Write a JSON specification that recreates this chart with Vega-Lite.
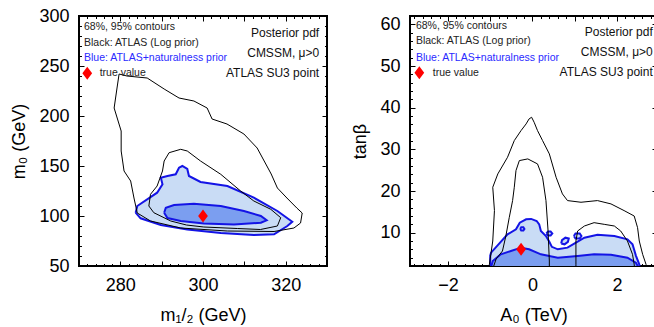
{
  "$schema": "https://vega.github.io/schema/vega-lite/v6.json",
  "padding": {"left": 9, "top": 6, "right": 0, "bottom": 0},
  "spacing": 21,
  "config": {
    "font": "Liberation Sans",
    "view": {"stroke": "black", "strokeWidth": 2},
    "axis": {
      "domain": false, "grid": false,
      "labelFont": "Liberation Sans", "titleFont": "Liberation Sans",
      "labelFontSize": 18, "titleFontSize": 18, "titleFontWeight": "normal",
      "labelColor": "black", "titleColor": "black", "tickColor": "black", "tickWidth": 1,
      "labelOverlap": false, "labelFlush": false, "format": "d",
      "labelPadding": 15, "titlePadding": 10
    }
  },
  "datasets": {
    "cont": [
      {"p":"L","c":"b95","o":0,"x":283.7,"y":103.3},{"p":"L","c":"b95","o":1,"x":284.1,"y":110},{"p":"L","c":"b95","o":2,"x":288.9,"y":123.3},{"p":"L","c":"b95","o":3,"x":290.2,"y":131.7},{"p":"L","c":"b95","o":4,"x":289.8,"y":138.3},{"p":"L","c":"b95","o":5,"x":291.4,"y":140},{"p":"L","c":"b95","o":6,"x":293.4,"y":141.7},{"p":"L","c":"b95","o":7,"x":294.2,"y":148.3},{"p":"L","c":"b95","o":8,"x":295,"y":150},{"p":"L","c":"b95","o":9,"x":296.2,"y":147},{"p":"L","c":"b95","o":10,"x":296.6,"y":140},{"p":"L","c":"b95","o":11,"x":299.4,"y":134},{"p":"L","c":"b95","o":12,"x":305.9,"y":130},{"p":"L","c":"b95","o":13,"x":312.3,"y":118.3},{"p":"L","c":"b95","o":14,"x":318,"y":105},{"p":"L","c":"b95","o":15,"x":321.6,"y":94.3},{"p":"L","c":"b95","o":16,"x":320.4,"y":90},{"p":"L","c":"b95","o":17,"x":317.2,"y":81.7},{"p":"L","c":"b95","o":18,"x":312.3,"y":81},{"p":"L","c":"b95","o":19,"x":304.3,"y":83},{"p":"L","c":"b95","o":20,"x":296.2,"y":86.5},{"p":"L","c":"b95","o":21,"x":289.8,"y":91},{"p":"L","c":"b95","o":22,"x":284.9,"y":97.7},{"p":"L","c":"b95","o":23,"x":283.7,"y":103.3},
      {"p":"L","c":"b68","o":0,"x":290.6,"y":103.3},{"p":"L","c":"b68","o":1,"x":291,"y":108.3},{"p":"L","c":"b68","o":2,"x":293,"y":111},{"p":"L","c":"b68","o":3,"x":297.8,"y":112.3},{"p":"L","c":"b68","o":4,"x":304.3,"y":110},{"p":"L","c":"b68","o":5,"x":309.9,"y":105},{"p":"L","c":"b68","o":6,"x":314,"y":100},{"p":"L","c":"b68","o":7,"x":315.4,"y":95.7},{"p":"L","c":"b68","o":8,"x":314,"y":93.3},{"p":"L","c":"b68","o":9,"x":307.5,"y":91.5},{"p":"L","c":"b68","o":10,"x":300.2,"y":92.5},{"p":"L","c":"b68","o":11,"x":294.6,"y":95},{"p":"L","c":"b68","o":12,"x":291.4,"y":98},{"p":"L","c":"b68","o":13,"x":290.6,"y":103.3},
      {"p":"L","c":"k95","o":0,"x":279.7,"y":242},{"p":"L","c":"k95","o":1,"x":281.6,"y":240},{"p":"L","c":"k95","o":2,"x":286.5,"y":238},{"p":"L","c":"k95","o":3,"x":290.6,"y":227},{"p":"L","c":"k95","o":4,"x":294.2,"y":218},{"p":"L","c":"k95","o":5,"x":297.8,"y":215},{"p":"L","c":"k95","o":6,"x":301,"y":208},{"p":"L","c":"k95","o":7,"x":302.2,"y":197},{"p":"L","c":"k95","o":8,"x":305.8,"y":192},{"p":"L","c":"k95","o":9,"x":309.9,"y":182},{"p":"L","c":"k95","o":10,"x":313.1,"y":168},{"p":"L","c":"k95","o":11,"x":314.8,"y":155},{"p":"L","c":"k95","o":12,"x":316.5,"y":142},{"p":"L","c":"k95","o":13,"x":318,"y":128},{"p":"L","c":"k95","o":14,"x":320.3,"y":118},{"p":"L","c":"k95","o":15,"x":322.7,"y":108},{"p":"L","c":"k95","o":16,"x":324,"y":103},{"p":"L","c":"k95","o":17,"x":323.6,"y":93},{"p":"L","c":"k95","o":18,"x":322,"y":88},{"p":"L","c":"k95","o":19,"x":317.2,"y":84.5},{"p":"L","c":"k95","o":20,"x":305.9,"y":85},{"p":"L","c":"k95","o":21,"x":294.6,"y":88},{"p":"L","c":"k95","o":22,"x":287.3,"y":95},{"p":"L","c":"k95","o":23,"x":284.1,"y":103},{"p":"L","c":"k95","o":24,"x":283.3,"y":118},{"p":"L","c":"k95","o":25,"x":282.5,"y":135},{"p":"L","c":"k95","o":26,"x":280.9,"y":145},{"p":"L","c":"k95","o":27,"x":280.2,"y":165},{"p":"L","c":"k95","o":28,"x":280.2,"y":185},{"p":"L","c":"k95","o":29,"x":278.5,"y":208},{"p":"L","c":"k95","o":30,"x":279.2,"y":228},{"p":"L","c":"k95","o":31,"x":279.7,"y":242},
      {"p":"L","c":"k68","o":0,"x":294.6,"y":166.7},{"p":"L","c":"k68","o":1,"x":291.8,"y":163.3},{"p":"L","c":"k68","o":2,"x":290.6,"y":155},{"p":"L","c":"k68","o":3,"x":290.2,"y":145},{"p":"L","c":"k68","o":4,"x":288.9,"y":130},{"p":"L","c":"k68","o":5,"x":287.3,"y":121.7},{"p":"L","c":"k68","o":6,"x":286.9,"y":110},{"p":"L","c":"k68","o":7,"x":288.1,"y":103.3},{"p":"L","c":"k68","o":8,"x":292.2,"y":95},{"p":"L","c":"k68","o":9,"x":296,"y":91},{"p":"L","c":"k68","o":10,"x":300.2,"y":89},{"p":"L","c":"k68","o":11,"x":308.3,"y":87.5},{"p":"L","c":"k68","o":12,"x":313.9,"y":86.5},{"p":"L","c":"k68","o":13,"x":318,"y":90},{"p":"L","c":"k68","o":14,"x":318.8,"y":98.3},{"p":"L","c":"k68","o":15,"x":316.4,"y":106.7},{"p":"L","c":"k68","o":16,"x":312.3,"y":115},{"p":"L","c":"k68","o":17,"x":309.1,"y":125},{"p":"L","c":"k68","o":18,"x":304.3,"y":141.7},{"p":"L","c":"k68","o":19,"x":299.4,"y":155},{"p":"L","c":"k68","o":20,"x":296.2,"y":165},{"p":"L","c":"k68","o":21,"x":294.6,"y":166.7},
      {"p":"R","c":"b95","o":0,"x":-1.0,"y":1},{"p":"R","c":"b95","o":1,"x":-1.0,"y":4.5},{"p":"R","c":"b95","o":2,"x":-0.98,"y":5.2},{"p":"R","c":"b95","o":3,"x":-0.82,"y":7.0},{"p":"R","c":"b95","o":4,"x":-0.59,"y":9.6},{"p":"R","c":"b95","o":5,"x":-0.39,"y":10.8},{"p":"R","c":"b95","o":6,"x":-0.3,"y":12.4},{"p":"R","c":"b95","o":7,"x":-0.15,"y":13.2},{"p":"R","c":"b95","o":8,"x":-0.03,"y":13.3},{"p":"R","c":"b95","o":9,"x":0.1,"y":12.8},{"p":"R","c":"b95","o":10,"x":0.16,"y":12.0},{"p":"R","c":"b95","o":11,"x":0.2,"y":10.4},{"p":"R","c":"b95","o":12,"x":0.32,"y":9.2},{"p":"R","c":"b95","o":13,"x":0.4,"y":7.8},{"p":"R","c":"b95","o":14,"x":0.46,"y":6.6},{"p":"R","c":"b95","o":15,"x":0.6,"y":6.0},{"p":"R","c":"b95","o":16,"x":0.83,"y":6.4},{"p":"R","c":"b95","o":17,"x":1.03,"y":7.6},{"p":"R","c":"b95","o":18,"x":1.23,"y":8.8},{"p":"R","c":"b95","o":19,"x":1.54,"y":9.5},{"p":"R","c":"b95","o":20,"x":1.94,"y":9.2},{"p":"R","c":"b95","o":21,"x":2.25,"y":8.4},{"p":"R","c":"b95","o":22,"x":2.37,"y":7.2},{"p":"R","c":"b95","o":23,"x":2.45,"y":4.5},{"p":"R","c":"b95","o":24,"x":2.53,"y":2.4},{"p":"R","c":"b95","o":25,"x":2.55,"y":1},{"p":"R","c":"b95","o":26,"x":-1.0,"y":1},
      {"p":"R","c":"i1","o":0,"x":-0.29,"y":10.9},{"p":"R","c":"i1","o":1,"x":-0.265,"y":11.3},{"p":"R","c":"i1","o":2,"x":-0.215,"y":11.3},{"p":"R","c":"i1","o":3,"x":-0.19,"y":10.9},{"p":"R","c":"i1","o":4,"x":-0.215,"y":10.5},{"p":"R","c":"i1","o":5,"x":-0.265,"y":10.5},{"p":"R","c":"i1","o":6,"x":-0.29,"y":10.9},
      {"p":"R","c":"i2","o":0,"x":0.33,"y":9.8},{"p":"R","c":"i2","o":1,"x":0.37,"y":10.3},{"p":"R","c":"i2","o":2,"x":0.43,"y":10.3},{"p":"R","c":"i2","o":3,"x":0.47,"y":9.8},{"p":"R","c":"i2","o":4,"x":0.43,"y":9.3},{"p":"R","c":"i2","o":5,"x":0.37,"y":9.3},{"p":"R","c":"i2","o":6,"x":0.33,"y":9.8},
      {"p":"R","c":"i3","o":0,"x":0.68,"y":7.4},{"p":"R","c":"i3","o":1,"x":0.7,"y":8.2},{"p":"R","c":"i3","o":2,"x":0.78,"y":8.8},{"p":"R","c":"i3","o":3,"x":0.86,"y":8.6},{"p":"R","c":"i3","o":4,"x":0.84,"y":7.8},{"p":"R","c":"i3","o":5,"x":0.76,"y":7.2},{"p":"R","c":"i3","o":6,"x":0.68,"y":7.4},
      {"p":"R","c":"i4","o":0,"x":0.98,"y":9.2},{"p":"R","c":"i4","o":1,"x":1.02,"y":9.8},{"p":"R","c":"i4","o":2,"x":1.12,"y":9.8},{"p":"R","c":"i4","o":3,"x":1.16,"y":9.2},{"p":"R","c":"i4","o":4,"x":1.12,"y":8.6},{"p":"R","c":"i4","o":5,"x":1.02,"y":8.6},{"p":"R","c":"i4","o":6,"x":0.98,"y":9.2},
      {"p":"R","c":"b68","o":0,"x":-1.0,"y":1},{"p":"R","c":"b68","o":1,"x":-0.94,"y":3.2},{"p":"R","c":"b68","o":2,"x":-0.75,"y":4.8},{"p":"R","c":"b68","o":3,"x":-0.51,"y":5.6},{"p":"R","c":"b68","o":4,"x":-0.27,"y":6.4},{"p":"R","c":"b68","o":5,"x":-0.08,"y":6.0},{"p":"R","c":"b68","o":6,"x":0.2,"y":4.8},{"p":"R","c":"b68","o":7,"x":0.6,"y":4.0},{"p":"R","c":"b68","o":8,"x":1.07,"y":4.4},{"p":"R","c":"b68","o":9,"x":1.46,"y":4.8},{"p":"R","c":"b68","o":10,"x":1.86,"y":4.7},{"p":"R","c":"b68","o":11,"x":2.25,"y":4.0},{"p":"R","c":"b68","o":12,"x":2.45,"y":2.8},{"p":"R","c":"b68","o":13,"x":2.55,"y":1},{"p":"R","c":"b68","o":14,"x":-1.0,"y":1},
      {"p":"R","c":"k95","o":0,"x":-1.02,"y":1},{"p":"R","c":"k95","o":1,"x":-1.02,"y":2.4},{"p":"R","c":"k95","o":2,"x":-0.94,"y":8.0},{"p":"R","c":"k95","o":3,"x":-0.9,"y":15.3},{"p":"R","c":"k95","o":4,"x":-0.94,"y":20.9},{"p":"R","c":"k95","o":5,"x":-0.82,"y":24.1},{"p":"R","c":"k95","o":6,"x":-0.59,"y":28.1},{"p":"R","c":"k95","o":7,"x":-0.43,"y":32.1},{"p":"R","c":"k95","o":8,"x":-0.27,"y":34.5},{"p":"R","c":"k95","o":9,"x":-0.15,"y":36.1},{"p":"R","c":"k95","o":10,"x":-0.08,"y":37.3},{"p":"R","c":"k95","o":11,"x":-0.02,"y":37.7},{"p":"R","c":"k95","o":12,"x":0.04,"y":36.5},{"p":"R","c":"k95","o":13,"x":0.12,"y":34.5},{"p":"R","c":"k95","o":14,"x":0.24,"y":32.1},{"p":"R","c":"k95","o":15,"x":0.4,"y":28.9},{"p":"R","c":"k95","o":16,"x":0.56,"y":23.3},{"p":"R","c":"k95","o":17,"x":0.71,"y":19.3},{"p":"R","c":"k95","o":18,"x":0.83,"y":17.7},{"p":"R","c":"k95","o":19,"x":1.15,"y":17.3},{"p":"R","c":"k95","o":20,"x":1.54,"y":17.7},{"p":"R","c":"k95","o":21,"x":1.86,"y":16.9},{"p":"R","c":"k95","o":22,"x":2.17,"y":15.3},{"p":"R","c":"k95","o":23,"x":2.41,"y":14.0},{"p":"R","c":"k95","o":24,"x":2.49,"y":11.2},{"p":"R","c":"k95","o":25,"x":2.53,"y":8.0},{"p":"R","c":"k95","o":26,"x":2.61,"y":4.8},{"p":"R","c":"k95","o":27,"x":2.69,"y":2.4},{"p":"R","c":"k95","o":28,"x":2.72,"y":1},{"p":"R","c":"k95","o":29,"x":-1.02,"y":1},
      {"p":"R","c":"k68a","o":0,"x":-0.95,"y":1},{"p":"R","c":"k68a","o":1,"x":-0.86,"y":3.7},{"p":"R","c":"k68a","o":2,"x":-0.71,"y":5.6},{"p":"R","c":"k68a","o":3,"x":-0.63,"y":9.2},{"p":"R","c":"k68a","o":4,"x":-0.55,"y":13.6},{"p":"R","c":"k68a","o":5,"x":-0.47,"y":17.7},{"p":"R","c":"k68a","o":6,"x":-0.43,"y":20.9},{"p":"R","c":"k68a","o":7,"x":-0.39,"y":24.9},{"p":"R","c":"k68a","o":8,"x":-0.31,"y":27.3},{"p":"R","c":"k68a","o":9,"x":-0.11,"y":27.7},{"p":"R","c":"k68a","o":10,"x":0.12,"y":26.5},{"p":"R","c":"k68a","o":11,"x":0.24,"y":23.3},{"p":"R","c":"k68a","o":12,"x":0.32,"y":17.7},{"p":"R","c":"k68a","o":13,"x":0.37,"y":10.4},{"p":"R","c":"k68a","o":14,"x":0.4,"y":3.2},{"p":"R","c":"k68a","o":15,"x":0.4,"y":1},{"p":"R","c":"k68a","o":16,"x":-0.95,"y":1},
      {"p":"R","c":"k68b","o":0,"x":1.03,"y":1},{"p":"R","c":"k68b","o":1,"x":1.03,"y":2.4},{"p":"R","c":"k68b","o":2,"x":1.03,"y":8.0},{"p":"R","c":"k68b","o":3,"x":1.07,"y":10.4},{"p":"R","c":"k68b","o":4,"x":1.23,"y":11.6},{"p":"R","c":"k68b","o":5,"x":1.46,"y":12.4},{"p":"R","c":"k68b","o":6,"x":1.7,"y":12.0},{"p":"R","c":"k68b","o":7,"x":1.94,"y":11.6},{"p":"R","c":"k68b","o":8,"x":2.09,"y":10.4},{"p":"R","c":"k68b","o":9,"x":2.25,"y":8.0},{"p":"R","c":"k68b","o":10,"x":2.37,"y":4.8},{"p":"R","c":"k68b","o":11,"x":2.41,"y":2.4},{"p":"R","c":"k68b","o":12,"x":2.42,"y":1},{"p":"R","c":"k68b","o":13,"x":1.03,"y":1}
    ],
    "pts": [
      {"p":"L","x":300,"y":100},{"p":"L","x":272.0,"y":242.7},
      {"p":"R","x":-0.27,"y":6.0},{"p":"R","x":-2.68,"y":48.4}
    ],
    "txt": [
      {"p":"L","g":"l","x":271.2,"y":289,"t":"68%, 95% contours"},
      {"p":"L","g":"l","x":271.2,"y":273.3,"t":"Black: ATLAS (Log prior)"},
      {"p":"L","g":"b","x":271.2,"y":257.7,"t":"Blue: ATLAS+naturalness prior"},
      {"p":"L","g":"l","x":275.0,"y":242.7,"t":"true value"},
      {"p":"L","g":"r","x":328.1,"y":282.7,"t":"Posterior pdf"},
      {"p":"L","g":"r","x":328.1,"y":263.3,"t":"CMSSM, μ>0"},
      {"p":"L","g":"r","x":328.1,"y":243.3,"t":"ATLAS SU3 point"},
      {"p":"R","g":"l","x":-2.76,"y":59.6,"t":"68%, 95% contours"},
      {"p":"R","g":"l","x":-2.76,"y":55.9,"t":"Black: ATLAS (Log prior)"},
      {"p":"R","g":"b","x":-2.76,"y":52.0,"t":"Blue: ATLAS+naturalness prior"},
      {"p":"R","g":"l","x":-2.36,"y":48.4,"t":"true value"},
      {"p":"R","g":"r","x":2.85,"y":58.1,"t":"Posterior pdf"},
      {"p":"R","g":"r","x":2.85,"y":53.4,"t":"CMSSM, μ>0"},
      {"p":"R","g":"r","x":2.85,"y":48.6,"t":"ATLAS SU3 point"}
    ]
  },
  "hconcat": [
    {
      "width": 248, "height": 250,
      "layer": [
        {
          "encoding": {
            "x": {"field": "x", "type": "quantitative", "scale": {"domain": [270, 330], "nice": false, "zero": false},
              "axis": {"orient": "bottom", "title": "m₁/₂ (GeV)",
                "values": [270,272,274,276,278,280,282,284,286,288,290,292,294,296,298,300,302,304,306,308,310,312,314,316,318,320,322,324,326,328,330],
                "labelExpr": "datum.value % 20 === 0 ? datum.label : ''",
                "tickSize": {"condition": {"test": "datum.value % 10 === 0", "value": -5}, "value": -2.5}}},
            "y": {"field": "y", "type": "quantitative", "scale": {"domain": [50, 300], "nice": false, "zero": false},
              "axis": {"orient": "left", "title": "m₀ (GeV)",
                "values": [50,60,70,80,90,100,110,120,130,140,150,160,170,180,190,200,210,220,230,240,250,260,270,280,290,300],
                "labelExpr": "datum.value % 50 === 0 ? datum.label : ''",
                "tickSize": {"condition": {"test": "datum.value % 50 === 0", "value": -5}, "value": -2.5}}}
          },
          "layer": [
            {"data": {"name": "cont"}, "transform": [{"filter": "datum.p === 'L' && datum.c === 'b95'"}],
             "mark": {"type": "line", "fill": "#c9dcf5", "stroke": "#1414e6", "strokeWidth": 2, "clip": true},
             "encoding": {"detail": {"field": "c"}, "order": {"field": "o", "type": "quantitative"}}},
            {"data": {"name": "cont"}, "transform": [{"filter": "datum.p === 'L' && datum.c === 'b68'"}],
             "mark": {"type": "line", "fill": "#7b9ef0", "stroke": "#1414e6", "strokeWidth": 2, "clip": true},
             "encoding": {"detail": {"field": "c"}, "order": {"field": "o", "type": "quantitative"}}},
            {"data": {"name": "cont"}, "transform": [{"filter": "datum.p === 'L' && datum.c[0] === 'k'"}],
             "mark": {"type": "line", "stroke": "black", "strokeWidth": 1, "clip": true},
             "encoding": {"detail": {"field": "c"}, "order": {"field": "o", "type": "quantitative"}}},
            {"data": {"name": "pts"}, "transform": [{"filter": "datum.p === 'L'"}],
             "mark": {"type": "point", "shape": "M0,-1L0.75,0L0,1L-0.75,0Z", "filled": true, "color": "#ff0000", "opacity": 1, "size": 169}},
            {"data": {"name": "txt"}, "transform": [{"filter": "datum.p === 'L' && datum.g === 'l'"}],
             "mark": {"type": "text", "align": "left", "baseline": "middle", "fontSize": 10.5, "color": "#222222"},
             "encoding": {"text": {"field": "t"}}},
            {"data": {"name": "txt"}, "transform": [{"filter": "datum.p === 'L' && datum.g === 'b'"}],
             "mark": {"type": "text", "align": "left", "baseline": "middle", "fontSize": 10.5, "color": "#2a2aff"},
             "encoding": {"text": {"field": "t"}}}
          ]
        },
        {
          "data": {"name": "txt"}, "transform": [{"filter": "datum.p === 'L' && datum.g === 'r'"}],
          "mark": {"type": "text", "align": "right", "baseline": "middle", "fontSize": 12, "color": "#111111"},
          "encoding": {
            "x": {"field": "x", "type": "quantitative", "scale": {"domain": [270, 330], "nice": false, "zero": false},
              "axis": {"orient": "top", "title": null, "labels": false,
                "values": [270,272,274,276,278,280,282,284,286,288,290,292,294,296,298,300,302,304,306,308,310,312,314,316,318,320,322,324,326,328,330],
                "tickSize": {"condition": {"test": "datum.value % 10 === 0", "value": -5}, "value": -2.5}}},
            "y": {"field": "y", "type": "quantitative", "scale": {"domain": [50, 300], "nice": false, "zero": false},
              "axis": {"orient": "right", "title": null, "labels": false,
                "values": [50,60,70,80,90,100,110,120,130,140,150,160,170,180,190,200,210,220,230,240,250,260,270,280,290,300],
                "tickSize": {"condition": {"test": "datum.value % 50 === 0", "value": -5}, "value": -2.5}}},
            "text": {"field": "t"}
          }
        }
      ],
      "resolve": {"axis": {"x": "independent", "y": "independent"}}
    },
    {
      "width": 247, "height": 250,
      "layer": [
        {
          "encoding": {
            "x": {"field": "x", "type": "quantitative", "scale": {"domain": [-2.9, 2.95], "nice": false, "zero": false},
              "axis": {"orient": "bottom", "title": "A₀ (TeV)",
                "values": [-2.8,-2.6,-2.4,-2.2,-2,-1.8,-1.6,-1.4,-1.2,-1,-0.8,-0.6,-0.4,-0.2,0,0.2,0.4,0.6,0.8,1,1.2,1.4,1.6,1.8,2,2.2,2.4,2.6,2.8],
                "labelExpr": "abs(datum.value % 2) < 0.001 ? datum.label : ''",
                "tickSize": {"condition": {"test": "abs(datum.value - round(datum.value)) < 0.001", "value": -5}, "value": -2.5}}},
            "y": {"field": "y", "type": "quantitative", "scale": {"domain": [2, 62], "nice": false, "zero": false},
              "axis": {"orient": "left", "title": "tanβ",
                "values": [2,4,6,8,10,12,14,16,18,20,22,24,26,28,30,32,34,36,38,40,42,44,46,48,50,52,54,56,58,60,62],
                "labelExpr": "datum.value % 10 === 0 ? datum.label : ''",
                "tickSize": {"condition": {"test": "datum.value % 10 === 0", "value": -5}, "value": -2.5}}}
          },
          "layer": [
            {"data": {"name": "cont"}, "transform": [{"filter": "datum.p === 'R' && (datum.c === 'b95' || datum.c[0] === 'i')"}],
             "mark": {"type": "line", "fill": "#c9dcf5", "stroke": "#1414e6", "strokeWidth": 2, "clip": true},
             "encoding": {"detail": {"field": "c"}, "order": {"field": "o", "type": "quantitative"}}},
            {"data": {"name": "cont"}, "transform": [{"filter": "datum.p === 'R' && datum.c === 'b68'"}],
             "mark": {"type": "line", "fill": "#7b9ef0", "stroke": "#1414e6", "strokeWidth": 2, "clip": true},
             "encoding": {"detail": {"field": "c"}, "order": {"field": "o", "type": "quantitative"}}},
            {"data": {"name": "cont"}, "transform": [{"filter": "datum.p === 'R' && datum.c[0] === 'k'"}],
             "mark": {"type": "line", "stroke": "black", "strokeWidth": 1, "clip": true},
             "encoding": {"detail": {"field": "c"}, "order": {"field": "o", "type": "quantitative"}}},
            {"data": {"name": "pts"}, "transform": [{"filter": "datum.p === 'R'"}],
             "mark": {"type": "point", "shape": "M0,-1L0.75,0L0,1L-0.75,0Z", "filled": true, "color": "#ff0000", "opacity": 1, "size": 169}},
            {"data": {"name": "txt"}, "transform": [{"filter": "datum.p === 'R' && datum.g === 'l'"}],
             "mark": {"type": "text", "align": "left", "baseline": "middle", "fontSize": 10.5, "color": "#222222"},
             "encoding": {"text": {"field": "t"}}},
            {"data": {"name": "txt"}, "transform": [{"filter": "datum.p === 'R' && datum.g === 'b'"}],
             "mark": {"type": "text", "align": "left", "baseline": "middle", "fontSize": 10.5, "color": "#2a2aff"},
             "encoding": {"text": {"field": "t"}}}
          ]
        },
        {
          "data": {"name": "txt"}, "transform": [{"filter": "datum.p === 'R' && datum.g === 'r'"}],
          "mark": {"type": "text", "align": "right", "baseline": "middle", "fontSize": 12, "color": "#111111"},
          "encoding": {
            "x": {"field": "x", "type": "quantitative", "scale": {"domain": [-2.9, 2.95], "nice": false, "zero": false},
              "axis": {"orient": "top", "title": null, "labels": false,
                "values": [-2.8,-2.6,-2.4,-2.2,-2,-1.8,-1.6,-1.4,-1.2,-1,-0.8,-0.6,-0.4,-0.2,0,0.2,0.4,0.6,0.8,1,1.2,1.4,1.6,1.8,2,2.2,2.4,2.6,2.8],
                "tickSize": {"condition": {"test": "abs(datum.value - round(datum.value)) < 0.001", "value": -5}, "value": -2.5}}},
            "y": {"field": "y", "type": "quantitative", "scale": {"domain": [2, 62], "nice": false, "zero": false},
              "axis": {"orient": "right", "title": null, "labels": false,
                "values": [2,4,6,8,10,12,14,16,18,20,22,24,26,28,30,32,34,36,38,40,42,44,46,48,50,52,54,56,58,60,62],
                "tickSize": {"condition": {"test": "datum.value % 10 === 0", "value": -5}, "value": -2.5}}},
            "text": {"field": "t"}
          }
        }
      ],
      "resolve": {"axis": {"x": "independent", "y": "independent"}}
    }
  ]
}
